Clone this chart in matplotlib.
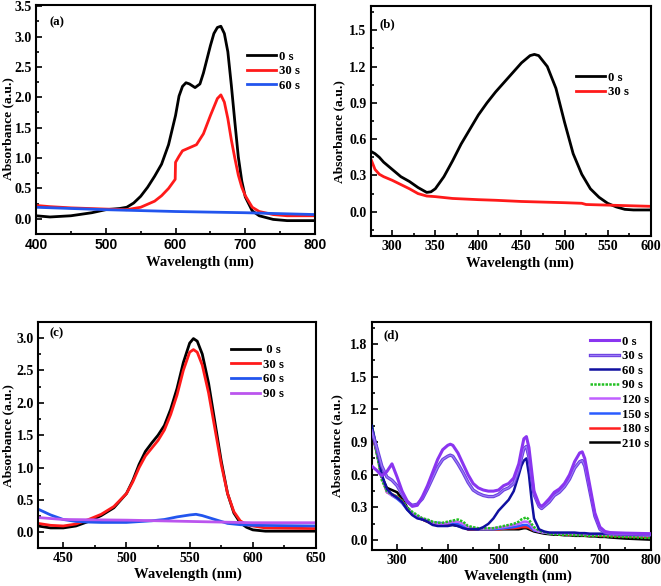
import matplotlib
matplotlib.use("Agg")
import matplotlib.pyplot as plt
import matplotlib.patheffects as pe
from matplotlib.ticker import MultipleLocator

plt.rcParams['font.family'] = ['Liberation Serif', 'DejaVu Serif']
plt.rcParams['font.weight'] = 'bold'
plt.rcParams['axes.labelweight'] = 'bold'

# ---------------- Panel (a) ----------------
a_wl_0 = [400, 420, 450, 480, 500, 520, 530, 540, 550, 560, 570, 580, 590, 600, 605, 610, 615, 620, 628, 635, 640,
          650, 655, 660, 665, 670, 675, 680, 685, 690, 695, 700, 710, 720, 740, 760, 800]
a_0s = [0.05, 0.03, 0.05, 0.10, 0.15, 0.17, 0.19, 0.26, 0.37, 0.52, 0.70, 0.90, 1.22, 1.70, 2.02, 2.18, 2.24, 2.22, 2.16,
        2.22, 2.40, 2.85, 3.05, 3.15, 3.17, 3.05, 2.75, 2.20, 1.60, 1.02, 0.62, 0.36, 0.13, 0.05, -0.01, -0.03, -0.03]
a_wl_30 = [400, 420, 450, 500, 530, 550, 570, 580, 590, 599.5, 600, 605, 610, 620, 630, 640, 650, 660, 665, 670, 675,
           680, 685, 690, 695, 700, 710, 720, 740, 760, 800]
a_30s = [0.22, 0.20, 0.18, 0.16, 0.15, 0.19, 0.29, 0.38, 0.50, 0.65, 0.93, 1.03, 1.12, 1.17, 1.22, 1.40, 1.70, 1.98,
         2.04, 1.92, 1.65, 1.30, 1.00, 0.72, 0.52, 0.38, 0.19, 0.12, 0.07, 0.05, 0.05]
a_wl_60 = [400, 500, 600, 700, 800]
a_60s = [0.19, 0.15, 0.12, 0.10, 0.07]

# ---------------- Panel (b) ----------------
b_wl_0 = [275, 280, 285, 290, 300, 310, 320, 330, 340, 345, 350, 360, 370, 380, 390, 400, 410, 420, 430, 440, 450,
          460, 465, 470, 480, 490, 500, 510, 520, 530, 540, 550, 560, 570, 580, 600]
b_0s = [0.50, 0.48, 0.45, 0.41, 0.35, 0.29, 0.25, 0.20, 0.16, 0.165, 0.19, 0.29, 0.42, 0.56, 0.68, 0.80, 0.90, 0.99,
        1.07, 1.15, 1.23, 1.29, 1.30, 1.29, 1.20, 1.02, 0.74, 0.48, 0.31, 0.19, 0.12, 0.07, 0.04, 0.02, 0.015, 0.015]
b_wl_30 = [275, 280, 285, 290, 300, 320, 330, 340, 350, 370, 400, 420, 450, 500, 520, 525, 550, 600]
b_30s = [0.44, 0.35, 0.31, 0.29, 0.26, 0.19, 0.15, 0.13, 0.125, 0.11, 0.10, 0.095, 0.085, 0.075, 0.07, 0.06, 0.055,
         0.045]

# ---------------- Panel (c) ----------------
c_wl = [430, 440, 450, 460, 470, 480, 490, 500, 505, 510, 515, 520, 525, 530, 535, 540, 545, 550, 553, 556, 560, 565,
        570, 575, 580, 585, 590, 595, 600, 610, 650]
c_0s = [0.10, 0.07, 0.07, 0.10, 0.17, 0.26, 0.38, 0.60, 0.80, 1.05, 1.25, 1.38, 1.50, 1.65, 1.90, 2.22, 2.62, 2.92,
        2.99, 2.95, 2.75, 2.30, 1.70, 1.10, 0.60, 0.30, 0.15, 0.08, 0.04, 0.02, 0.02]
c_30s = [0.14, 0.11, 0.10, 0.13, 0.20, 0.28, 0.40, 0.60, 0.78, 1.00, 1.18, 1.30, 1.42, 1.58, 1.82, 2.12, 2.50, 2.78,
         2.82, 2.78, 2.58, 2.15, 1.60, 1.05, 0.60, 0.32, 0.18, 0.12, 0.10, 0.07, 0.06]
c_wl_60 = [430, 440, 450, 460, 470, 480, 500, 520, 530, 540, 550, 555, 560, 570, 580, 590, 600, 650]
c_60s = [0.36, 0.27, 0.20, 0.17, 0.16, 0.155, 0.155, 0.18, 0.20, 0.24, 0.27, 0.28, 0.26, 0.20, 0.14, 0.12, 0.11, 0.10]
c_wl_90 = [430, 450, 500, 550, 600, 650]
c_90s = [0.23, 0.20, 0.19, 0.17, 0.15, 0.15]

# ---------------- Panel (d) ----------------
d_wl = [250, 260, 270, 280, 290, 300, 310, 320, 330, 340, 350, 360, 370, 380, 390, 400, 405, 410, 420, 430, 440, 450,
        460, 470, 480, 490, 500, 510, 520, 530, 540, 545, 550, 555, 560, 565, 570, 580, 585, 590, 600, 610, 620, 630,
        640, 650, 660, 665, 670, 680, 690, 700, 710, 720, 750, 800]
d_0s = [0.68, 0.64, 0.59, 0.63, 0.70, 0.58, 0.45, 0.36, 0.31, 0.32, 0.40, 0.50, 0.62, 0.74, 0.83, 0.87, 0.88, 0.87,
        0.80, 0.70, 0.60, 0.52, 0.48, 0.46, 0.45, 0.45, 0.46, 0.50, 0.52, 0.57, 0.70, 0.82, 0.93, 0.95, 0.85, 0.65,
        0.45, 0.33, 0.31, 0.33, 0.38, 0.44, 0.47, 0.52, 0.60, 0.72, 0.80, 0.81, 0.75, 0.50, 0.25, 0.12, 0.08, 0.07,
        0.065, 0.06]
d_30s = [1.00, 0.85, 0.68, 0.58, 0.55, 0.50, 0.42, 0.35, 0.32, 0.33, 0.38, 0.47, 0.57, 0.67, 0.74, 0.77, 0.78, 0.77,
         0.70, 0.62, 0.53, 0.46, 0.43, 0.41, 0.40, 0.40, 0.42, 0.46, 0.48, 0.52, 0.65, 0.75, 0.84, 0.86, 0.76, 0.58,
         0.42, 0.31, 0.29, 0.31, 0.35, 0.41, 0.44, 0.49, 0.56, 0.66, 0.72, 0.73, 0.68, 0.45, 0.22, 0.10, 0.07, 0.06,
         0.055, 0.05]
d_60s = [1.05, 0.85, 0.60, 0.47, 0.42, 0.39, 0.35, 0.28, 0.23, 0.20, 0.19, 0.17, 0.14, 0.13, 0.13, 0.13, 0.135, 0.14,
         0.13, 0.11, 0.10, 0.10, 0.10, 0.12, 0.15, 0.20, 0.27, 0.32, 0.37, 0.45, 0.60, 0.68, 0.73, 0.75, 0.60, 0.38,
         0.20, 0.10, 0.09, 0.08, 0.07, 0.07, 0.07, 0.07, 0.07, 0.07, 0.065, 0.065, 0.065, 0.06, 0.06, 0.06, 0.06, 0.06,
         0.055, 0.05]
d_90s = [1.07, 0.80, 0.55, 0.45, 0.42, 0.40, 0.36, 0.30, 0.26, 0.23, 0.20, 0.19, 0.17, 0.16, 0.16, 0.17, 0.175, 0.18,
         0.19, 0.17, 0.13, 0.12, 0.11, 0.11, 0.11, 0.11, 0.12, 0.13, 0.14, 0.15, 0.17, 0.19, 0.20, 0.21, 0.19, 0.15,
         0.12, 0.09, 0.08, 0.075, 0.06, 0.055, 0.05, 0.05, 0.05, 0.045, 0.045, 0.045, 0.04, 0.04, 0.04, 0.04, 0.035,
         0.035, 0.03, 0.02]
d_120s = [1.02, 0.82, 0.58, 0.44, 0.41, 0.39, 0.35, 0.29, 0.25, 0.22, 0.20, 0.18, 0.16, 0.15, 0.15, 0.16, 0.165, 0.17,
          0.17, 0.15, 0.12, 0.11, 0.105, 0.105, 0.105, 0.11, 0.115, 0.12, 0.13, 0.14, 0.15, 0.16, 0.17, 0.17, 0.16,
          0.13, 0.10, 0.08, 0.075, 0.07, 0.065, 0.06, 0.06, 0.06, 0.06, 0.055, 0.055, 0.055, 0.055, 0.05, 0.05, 0.05,
          0.05, 0.05, 0.045, 0.04]
d_150s = [1.04, 0.83, 0.59, 0.45, 0.41, 0.38, 0.34, 0.28, 0.24, 0.21, 0.19, 0.18, 0.16, 0.16, 0.155, 0.155, 0.155,
          0.155, 0.15, 0.13, 0.11, 0.105, 0.10, 0.10, 0.10, 0.10, 0.105, 0.11, 0.115, 0.12, 0.13, 0.135, 0.14, 0.14,
          0.13, 0.11, 0.09, 0.08, 0.075, 0.07, 0.065, 0.06, 0.06, 0.06, 0.06, 0.055, 0.055, 0.055, 0.055, 0.05, 0.05,
          0.05, 0.05, 0.05, 0.045, 0.04]
d_180s = [1.00, 0.82, 0.58, 0.44, 0.42, 0.40, 0.36, 0.29, 0.24, 0.21, 0.19, 0.17, 0.15, 0.14, 0.14, 0.14, 0.145, 0.15,
          0.14, 0.12, 0.10, 0.10, 0.10, 0.10, 0.10, 0.10, 0.10, 0.105, 0.11, 0.11, 0.115, 0.12, 0.12, 0.12, 0.115,
          0.10, 0.09, 0.08, 0.075, 0.07, 0.065, 0.06, 0.055, 0.055, 0.05, 0.05, 0.05, 0.05, 0.045, 0.045, 0.045, 0.04,
          0.04, 0.04, 0.035, 0.03]
d_210s = [1.00, 0.80, 0.58, 0.48, 0.46, 0.44, 0.38, 0.30, 0.24, 0.21, 0.19, 0.17, 0.15, 0.14, 0.14, 0.14, 0.14, 0.14,
          0.13, 0.12, 0.10, 0.10, 0.10, 0.10, 0.10, 0.10, 0.10, 0.10, 0.10, 0.10, 0.10, 0.105, 0.11, 0.11, 0.10, 0.09,
          0.08, 0.07, 0.065, 0.06, 0.055, 0.05, 0.05, 0.045, 0.045, 0.04, 0.04, 0.04, 0.04, 0.035, 0.035, 0.03, 0.03,
          0.025, 0.015, 0.005]

fig = plt.figure(figsize=(6.61, 5.86), dpi=100)

FS = 10
LFS = 9.2


def style(ax, xlim, ylim, xmaj, ymaj, ylab_xy, xlab_xy):
    ax.set_xlim(*xlim)
    ax.set_ylim(*ylim)
    ax.xaxis.set_major_locator(MultipleLocator(xmaj))
    ax.xaxis.set_minor_locator(MultipleLocator(xmaj / 2))
    ax.yaxis.set_major_locator(MultipleLocator(ymaj))
    ax.yaxis.set_minor_locator(MultipleLocator(ymaj / 2))
    ax.tick_params(which='both', direction='in', top=False, right=False, width=1.2)
    ax.tick_params(which='major', length=4, labelsize=FS, pad=3)
    ax.tick_params(which='minor', length=2.5)
    for s in ax.spines.values():
        s.set_linewidth(1.5)
    ax.yaxis.set_major_formatter(plt.FormatStrFormatter('%.1f'))
    for lab in ax.get_xticklabels() + ax.get_yticklabels():
        lab.set_fontweight('bold')
    ax.set_xlabel('Wavelength (nm)', fontsize=FS + 0.5, fontweight='bold')
    ax.set_ylabel('Absorbance (a.u.)', fontsize=FS - 0.3, fontweight='bold')
    ax.yaxis.set_label_coords(*ylab_xy)
    ax.xaxis.set_label_coords(*xlab_xy)


def leg(ax, x, y, handles=None, labels=None, spacing=0.2):
    if handles is None:
        handles, labels = ax.get_legend_handles_labels()
    lg = ax.legend(handles, labels, loc='upper left', bbox_to_anchor=(x, y), frameon=False, fontsize=LFS,
                   handlelength=2.3, handletextpad=0.2, labelspacing=spacing, borderpad=0, borderaxespad=0)
    for t in lg.get_texts():
        t.set_fontweight('bold')
    return lg


# (a)
ax = fig.add_axes([0.0545, 0.6007, 0.4221, 0.3908])
ax.plot(a_wl_0, a_0s, color='black', lw=2, label='0 s')
ax.plot(a_wl_30, a_30s, color='#ff1a1a', lw=2, label='30 s')
ax.plot(a_wl_60, a_60s, color='#2255ee', lw=2, label='60 s')
style(ax, (400, 800), (-0.25, 3.52), 100, 0.5, (-0.079, 0.46), (0.588, -0.095))
for lab in ax.get_xticklabels():
    lab.set_fontfamily(['Liberation Sans', 'DejaVu Sans'])
    lab.set_fontsize(FS)
ax.text(0.047, 0.925, '(a)', transform=ax.transAxes, fontsize=LFS, fontweight='bold', va='center')
leg(ax, 0.756, 0.80)

# (b)
ax = fig.add_axes([0.5608, 0.5973, 0.4236, 0.3925])
ax.plot(b_wl_0, b_0s, color='black', lw=2, label='0 s')
ax.plot(b_wl_30, b_30s, color='#ff1a1a', lw=2, label='30 s')
style(ax, (275, 600), (-0.2, 1.7), 50, 0.3, (-0.092, 0.453), (0.534, -0.09))
ax.text(0.033, 0.92, '(b)', transform=ax.transAxes, fontsize=LFS, fontweight='bold', va='center')
leg(ax, 0.732, 0.715)

# (c)
ax = fig.add_axes([0.0575, 0.0648, 0.4206, 0.3862])
ax.plot(c_wl, c_0s, color='black', lw=2, label=' 0 s')
ax.plot(c_wl, c_30s, color='#ff1a1a', lw=2, label='30 s')
ax.plot(c_wl_60, c_60s, color='#2255ee', lw=2, label='60 s')
ax.plot(c_wl_90, c_90s, color='#bb55ee', lw=2, label='90 s')
style(ax, (430, 650), (-0.24, 3.25), 50, 0.5, (-0.087, 0.495), (0.538, -0.088))
ax.text(0.043, 0.949, '(c)', transform=ax.transAxes, fontsize=LFS, fontweight='bold', va='center')
leg(ax, 0.694, 0.90)

# (d)
ax = fig.add_axes([0.5623, 0.0614, 0.4221, 0.389])
ax.plot(d_wl, d_210s, color='black', lw=1.8, label='210 s', zorder=2)
ax.plot(d_wl, d_180s, color='#ff2020', lw=1.8, label='180 s', zorder=2)
ax.plot(d_wl, d_150s, color='#2a5cff', lw=1.8, label='150 s', zorder=2)
ax.plot(d_wl, d_120s, color='#c060ff', lw=1.8, label='120 s', zorder=2)
ax.plot(d_wl, d_90s, color='#22c022', lw=1.8, ls=(0, (1, 0.5)), label='90 s', zorder=2)
ax.plot(d_wl, d_60s, color='#1010a0', lw=1.8, label='60 s', zorder=3)
ax.plot(d_wl, d_30s, color='#9c7cf5', lw=0.9, label='30 s', zorder=3,
        path_effects=[pe.Stroke(linewidth=2.4, foreground='#6a3fe0'), pe.Normal()])
ax.plot(d_wl, d_0s, color='#8a35f0', lw=2.2, label='0 s', zorder=4)
style(ax, (250, 800), (-0.09, 2.0), 100, 0.3, (-0.102, 0.46), (0.525, -0.085))
ax.text(0.042, 0.943, '(d)', transform=ax.transAxes, fontsize=LFS, fontweight='bold', va='center')
h, l = ax.get_legend_handles_labels()
leg(ax, 0.782, 0.94, h[::-1], l[::-1], spacing=0.2)

fig.savefig('out.png', dpi=100)
